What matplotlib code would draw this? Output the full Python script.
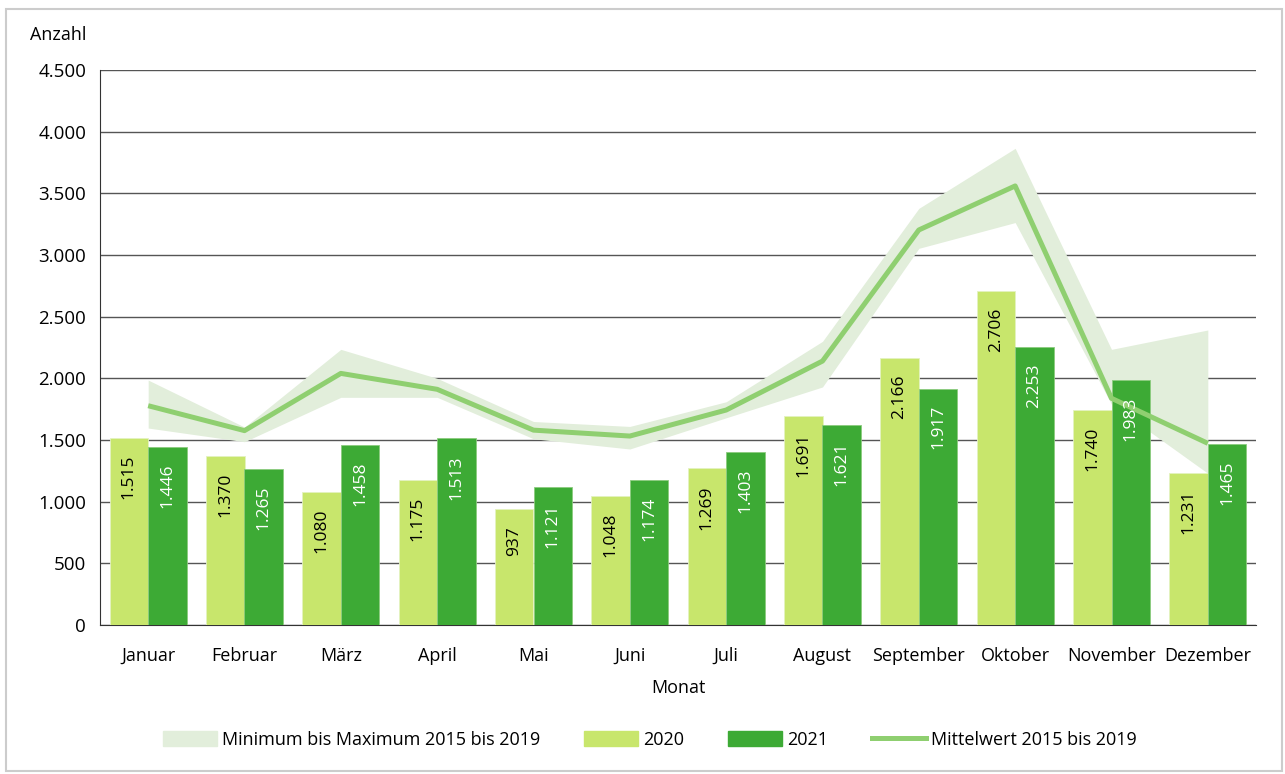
import matplotlib.pyplot as plt
import numpy as np
from matplotlib.patches import Patch, Rectangle
from matplotlib.lines import Line2D
from matplotlib.ticker import FuncFormatter

# Daten
MONTHS = ["Januar", "Februar", "März", "April", "Mai", "Juni", "Juli",
          "August", "September", "Oktober", "November", "Dezember"]
VALUES_2020 = [1515, 1370, 1080, 1175, 937, 1048, 1269, 1691, 2166, 2706, 1740, 1231]
VALUES_2021 = [1446, 1265, 1458, 1513, 1121, 1174, 1403, 1621, 1917, 2253, 1983, 1465]
MEAN_15_19 = [1778, 1576, 2040, 1911, 1580, 1532, 1743, 2140, 3203, 3560, 1838, 1473]
MIN_15_19 = [1597, 1486, 1846, 1846, 1510, 1427, 1680, 1930, 3054, 3263, 1790, 1230]
MAX_15_19 = [1986, 1605, 2235, 2000, 1650, 1610, 1810, 2300, 3378, 3865, 2235, 2392]

C_2020 = "#c8e66c"
C_2021 = "#3daa35"
C_MEAN = "#8fcf70"
C_BAND = "#e2eedb"

plt.rcParams["font.family"] = ["Open Sans", "DejaVu Sans"]
plt.rcParams["font.size"] = 13


def fmt_de(v, _pos=None):
    return f"{int(v):,}".replace(",", ".")


def main():
    fig = plt.figure(figsize=(12.85, 7.74), dpi=100)
    ax = fig.add_axes([100 / 1285, 1 - 625 / 774, 1156 / 1285, 555 / 774])

    x = np.arange(len(MONTHS))
    w = 0.4

    ax.fill_between(x, MIN_15_19, MAX_15_19, color=C_BAND, lw=0, zorder=2)
    ax.plot(x, MEAN_15_19, color=C_MEAN, lw=3.6, zorder=4, solid_capstyle="butt")
    b20 = ax.bar(x - w / 2, VALUES_2020, w, color=C_2020, edgecolor="#e4f2c0",
                 lw=0.6, zorder=3)
    b21 = ax.bar(x + w / 2, VALUES_2021, w, color=C_2021, edgecolor="#8ccb7e",
                 lw=0.6, zorder=3)

    for bars, vals, col in ((b20, VALUES_2020, "black"), (b21, VALUES_2021, "white")):
        for r, v in zip(bars, vals):
            ax.annotate(fmt_de(v), (r.get_x() + r.get_width() / 2, v),
                        xytext=(0, -12), textcoords="offset points",
                        rotation=90, ha="center", va="top", color=col,
                        fontsize=12.5, zorder=5)

    ax.set_xlim(-0.5, len(MONTHS) - 0.5)
    ax.set_ylim(0, 4500)
    ax.set_yticks(np.arange(0, 4501, 500))
    ax.yaxis.set_major_formatter(FuncFormatter(fmt_de))
    ax.set_xticks(x)
    ax.set_xticklabels(MONTHS)
    ax.tick_params(axis="y", length=0, pad=10, labelsize=13.5)
    ax.tick_params(axis="x", length=0, pad=16, labelsize=13)
    ax.grid(axis="y", color="#555555", lw=1, zorder=1)
    ax.set_axisbelow(True)
    for s in ("top", "right"):
        ax.spines[s].set_visible(False)
    ax.spines["left"].set_color("#333333")
    ax.spines["bottom"].set_color("#333333")
    ax.set_xlabel("Monat", labelpad=10, fontsize=13)

    fig.text(30 / 1285, 1 - 35 / 774, "Anzahl", ha="left", va="center", fontsize=13)

    handles = [
        Patch(color=C_BAND, label="Minimum bis Maximum 2015 bis 2019"),
        Patch(color=C_2020, label="2020"),
        Patch(color=C_2021, label="2021"),
        Line2D([], [], color=C_MEAN, lw=3.6, label="Mittelwert 2015 bis 2019"),
    ]
    fig.legend(handles=handles, loc="center", bbox_to_anchor=(650 / 1285, 1 - 740 / 774),
               ncol=4, frameon=False, handlelength=3.0, handleheight=0.9,
               columnspacing=2.4, handletextpad=0.3, fontsize=13)

    fig.patches.append(Rectangle((6 / 1285, 1 - 771 / 774), 1276 / 1285, 762 / 774,
                                 transform=fig.transFigure, fill=False,
                                 edgecolor="#cccccc", lw=1.5))

    fig.savefig("out.png", dpi=100)


if __name__ == "__main__":
    main()
